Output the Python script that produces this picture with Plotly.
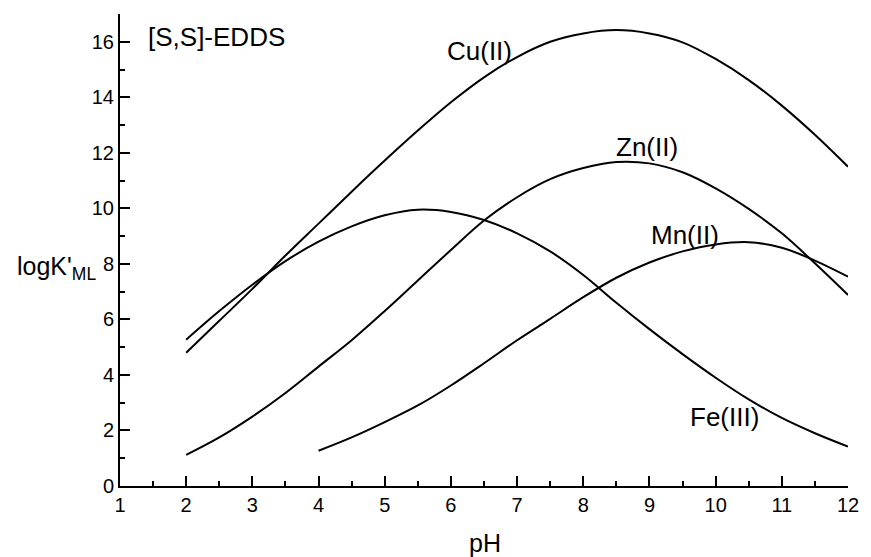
import plotly.graph_objects as go

# pH grid and logK'ML values
ph_a = [2, 2.5, 3, 3.5, 4, 4.5, 5, 5.5, 6, 6.5, 7, 7.5, 8, 8.5, 9, 9.5, 10, 10.5, 11, 11.5, 12]
cu = [4.8, 5.95, 7.1, 8.3, 9.45, 10.6, 11.72, 12.8, 13.82, 14.72, 15.45, 16.0, 16.3, 16.42,
      16.3, 15.98, 15.38, 14.62, 13.7, 12.65, 11.5]
fe = [5.27, 6.3, 7.25, 8.1, 8.8, 9.35, 9.75, 9.95, 9.87, 9.58, 9.1, 8.45, 7.6, 6.6,
      5.65, 4.75, 3.9, 3.12, 2.45, 1.9, 1.42]
zn = [1.12, 1.75, 2.5, 3.35, 4.3, 5.25, 6.3, 7.4, 8.5, 9.56, 10.4, 11.05, 11.45, 11.67,
      11.62, 11.3, 10.72, 9.98, 9.1, 8.02, 6.88]
ph_mn = [4, 4.5, 5, 5.5, 6, 6.5, 7, 7.5, 8, 8.5, 9, 9.5, 10, 10.5, 11, 11.5, 12]
mn = [1.27, 1.75, 2.3, 2.9, 3.62, 4.42, 5.25, 6.02, 6.8, 7.5, 8.05, 8.45, 8.7, 8.78, 8.58, 8.12, 7.54]

labels = ["Cu(II)", "Zn(II)", "Mn(II)", "Fe(III)"]
label_x = [6.43, 8.97, 9.53, 10.14]
label_y = [15.65, 12.2, 9.04, 2.48]

FONT = "Liberation Sans, Arial, sans-serif"

fig = go.Figure()
for xs, ys in [(ph_a, cu), (ph_a, fe), (ph_a, zn), (ph_mn, mn)]:
    fig.add_trace(go.Scatter(x=xs, y=ys, mode="lines",
                             line=dict(color="black", width=2, shape="spline", smoothing=1.0),
                             showlegend=False, hoverinfo="skip"))

for t, x, y in zip(labels, label_x, label_y):
    fig.add_annotation(x=x, y=y, text=t, showarrow=False,
                       font=dict(family=FONT, size=26, color="black"))

fig.add_annotation(xref="paper", yref="paper", x=0.036, y=0.951, text="[S,S]-EDDS",
                   showarrow=False, xanchor="left", yanchor="middle",
                   font=dict(family=FONT, size=26, color="black"))
fig.add_annotation(xref="paper", yref="y", x=0, y=7.85, xanchor="right", xshift=-22,
                   text="logK'<sub>ML</sub>", showarrow=False,
                   font=dict(family=FONT, size=25, color="black"))
fig.add_annotation(xref="paper", yref="paper", x=0.502, y=0, yshift=-57,
                   text="pH", showarrow=False, yanchor="middle",
                   font=dict(family=FONT, size=25, color="black"))

axis_common = dict(showline=True, linecolor="black", linewidth=2, showgrid=False,
                   zeroline=False, ticks="inside", ticklen=10, tickwidth=2, tickcolor="black",
                   tickfont=dict(family=FONT, size=20, color="black"), mirror=False)

fig.update_xaxes(range=[1, 12], tickmode="linear", tick0=1, dtick=1,
                 minor=dict(ticks="inside", ticklen=5, tickwidth=2, tickcolor="black", dtick=0.5, tick0=1),
                 **axis_common)
fig.update_yaxes(range=[0, 17], tickmode="array", tickvals=[0, 2, 4, 6, 8, 10, 12, 14, 16],
                 minor=dict(ticks="inside", ticklen=5, tickwidth=2, tickcolor="black",
                            tickmode="array", tickvals=[1, 3, 5, 7, 9, 11, 13, 15, 17]),
                 **axis_common)

fig.update_layout(width=871, height=557, margin=dict(l=120, r=13, t=14, b=71),
                  plot_bgcolor="white", paper_bgcolor="white")

fig.write_html("out.html")
